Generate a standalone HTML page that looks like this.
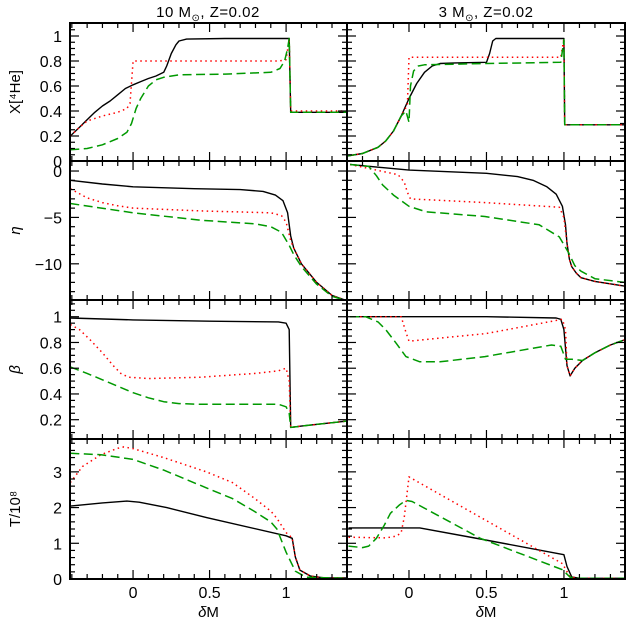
<!DOCTYPE html>
<html><head><meta charset="utf-8"><style>
html,body{margin:0;padding:0;background:#fff;}
svg{display:block;font-family:"Liberation Sans",sans-serif;}
</style></head><body>
<svg id="chart" width="627" height="622" viewBox="0 0 627 622" xmlns="http://www.w3.org/2000/svg">
<text x="208" y="17" font-size="15" text-anchor="middle" letter-spacing="0.5">10 M<tspan font-size="10" dy="4">⊙</tspan><tspan dy="-4">, Z=0.02</tspan></text>
<text x="486" y="17" font-size="15" text-anchor="middle" letter-spacing="0.5">3 M<tspan font-size="10" dy="4">⊙</tspan><tspan dy="-4">, Z=0.02</tspan></text>
<g id="plots"></g>
</svg>
<script>
// ---- data ----
const L1_black_x=[-0.41,-0.35,-0.3,-0.25,-0.2,-0.15,-0.1,-0.05,0,0.05,0.1,0.15,0.2,0.22,0.25,0.28,0.3,0.35,0.6,1.0,1.02,1.03,1.4];
const L1_black_y=[0.2,0.27,0.33,0.39,0.44,0.48,0.53,0.58,0.61,0.635,0.66,0.68,0.71,0.76,0.86,0.93,0.96,0.975,0.98,0.98,0.98,0.39,0.39];
const L1_red_x=[-0.41,-0.35,-0.3,-0.2,-0.1,-0.04,-0.02,0,0.95,1.0,1.02,1.03,1.4];
const L1_red_y=[0.2,0.27,0.32,0.36,0.39,0.42,0.46,0.8,0.8,0.81,0.98,0.4,0.4];
const L1_green_x=[-0.41,-0.3,-0.2,-0.1,-0.04,-0.01,0.02,0.05,0.08,0.1,0.15,0.2,0.3,0.6,0.9,0.96,0.99,1.01,1.02,1.03,1.4];
const L1_green_y=[0.09,0.1,0.13,0.18,0.23,0.3,0.42,0.5,0.56,0.6,0.65,0.67,0.69,0.695,0.71,0.74,0.8,0.9,0.98,0.39,0.39];

const R1_black_x=[-0.4,-0.3,-0.2,-0.15,-0.1,-0.05,0,0.05,0.1,0.15,0.2,0.3,0.5,0.52,0.54,0.56,1.0,1.005,1.4];
const R1_black_y=[0.04,0.06,0.11,0.16,0.24,0.36,0.5,0.62,0.71,0.76,0.78,0.785,0.79,0.86,0.96,0.98,0.98,0.29,0.29];
const R1_red_x=[-0.4,-0.3,-0.2,-0.15,-0.1,-0.05,-0.01,0,0.98,1.0,1.005,1.4];
const R1_red_y=[0.04,0.06,0.11,0.16,0.24,0.36,0.45,0.83,0.83,0.98,0.29,0.29];
const R1_green_x=[-0.4,-0.3,-0.2,-0.15,-0.1,-0.05,-0.02,0,0.01,0.03,0.06,0.1,0.5,0.98,1.0,1.005,1.4];
const R1_green_y=[0.04,0.06,0.11,0.16,0.24,0.36,0.4,0.31,0.6,0.72,0.76,0.77,0.78,0.79,0.97,0.29,0.29];

const L2_black_x=[-0.41,-0.2,0,0.4,0.7,0.85,0.93,0.98,1.01,1.03,1.05,1.1,1.2,1.3,1.4];
const L2_black_y=[-1.0,-1.4,-1.7,-1.9,-2.0,-2.2,-2.6,-3.2,-4.5,-7.0,-8.3,-10,-12,-13.4,-14];
const L2_red_x=[-0.41,-0.3,-0.2,-0.1,0,0.44,0.9,0.97,1.0,1.03,1.05,1.1,1.2,1.3,1.4];
const L2_red_y=[-1.9,-2.9,-3.4,-3.75,-4.0,-4.3,-4.5,-4.8,-5.5,-7.5,-8.3,-10,-12,-13.4,-14];
const L2_green_x=[-0.41,0,0.44,0.8,0.9,0.97,1.02,1.05,1.1,1.2,1.3,1.4];
const L2_green_y=[-3.5,-4.5,-5.3,-5.7,-6.0,-6.6,-8.0,-9.0,-10.3,-12.2,-13.5,-14];

const R2_black_x=[-0.38,0,0.5,0.7,0.8,0.89,0.95,0.99,1.01,1.02,1.035,1.05,1.08,1.11,1.2,1.39];
const R2_black_y=[0.7,0.1,-0.25,-0.6,-1.0,-1.7,-2.5,-3.8,-5.8,-7.8,-9.5,-10.3,-11.0,-11.5,-11.9,-12.4];
const R2_red_x=[-0.38,-0.07,-0.03,-0.01,0.01,0.49,0.97,1.0,1.02,1.035,1.05,1.08,1.11,1.2,1.39];
const R2_red_y=[0.7,-0.4,-1.2,-2.3,-3.0,-3.4,-3.9,-5.0,-7.8,-9.5,-10.3,-11.0,-11.5,-11.9,-12.4];
const R2_green_x=[-0.38,-0.26,-0.21,-0.17,-0.1,0,0.11,0.49,0.84,0.97,1.03,1.07,1.11,1.2,1.39];
const R2_green_y=[0.7,0.5,-0.5,-1.5,-2.6,-3.8,-4.4,-4.9,-5.8,-7.1,-8.8,-10.2,-10.8,-11.6,-12.0];

const L3_black_x=[-0.41,0,0.5,0.95,1.0,1.02,1.03,1.1,1.4];
const L3_black_y=[0.99,0.975,0.965,0.96,0.95,0.9,0.14,0.15,0.19];
const L3_red_x=[-0.41,-0.35,-0.28,-0.2,-0.13,-0.08,-0.03,0.1,0.44,0.8,0.95,1.0,1.02,1.03,1.1,1.4];
const L3_red_y=[0.94,0.9,0.82,0.72,0.62,0.56,0.53,0.52,0.53,0.56,0.58,0.6,0.5,0.14,0.15,0.19];
const L3_green_x=[-0.41,-0.3,-0.2,-0.1,0,0.1,0.2,0.3,0.44,0.95,1.0,1.02,1.03,1.1,1.4];
const L3_green_y=[0.61,0.56,0.51,0.46,0.41,0.37,0.34,0.325,0.32,0.32,0.3,0.25,0.14,0.15,0.19];

const R3_black_x=[-0.38,0.5,0.95,0.98,1.0,1.02,1.04,1.07,1.12,1.2,1.3,1.39];
const R3_black_y=[1.0,1.0,0.99,0.98,0.9,0.62,0.54,0.6,0.66,0.72,0.78,0.82];
const R3_red_x=[-0.38,-0.05,-0.02,0,0.5,0.99,1.01,1.02,1.04,1.07,1.12,1.2,1.3,1.39];
const R3_red_y=[1.0,1.0,0.88,0.81,0.87,0.98,0.9,0.62,0.54,0.6,0.66,0.72,0.78,0.82];
const R3_green_x=[-0.38,-0.28,-0.2,-0.15,-0.08,-0.02,0.07,0.2,0.49,0.92,0.98,1.01,1.05,1.12,1.2,1.3,1.39];
const R3_green_y=[1.0,1.0,0.96,0.9,0.79,0.69,0.65,0.65,0.69,0.78,0.77,0.67,0.67,0.66,0.72,0.78,0.82];

const L4_black_x=[-0.41,-0.2,-0.04,0.04,0.22,0.48,1.0,1.04,1.06,1.09,1.16,1.25,1.4];
const L4_black_y=[2.04,2.13,2.18,2.15,2.0,1.72,1.21,1.14,0.62,0.25,0.08,0.03,0.03];
const L4_red_x=[-0.41,-0.33,-0.21,-0.1,-0.06,0,0.2,0.48,0.65,0.79,0.9,0.94,1.0,1.04,1.06,1.09,1.16,1.25,1.4];
const L4_red_y=[2.7,3.15,3.48,3.66,3.7,3.65,3.4,3.0,2.7,2.27,1.9,1.7,1.3,1.15,0.62,0.25,0.08,0.03,0.03];
const L4_green_x=[-0.41,-0.21,0,0.2,0.48,0.65,0.79,0.9,0.94,1.0,1.06,1.13,1.4];
const L4_green_y=[3.52,3.48,3.35,3.05,2.55,2.25,1.9,1.6,1.4,0.75,0.22,0.05,0.02];

const R4_black_x=[-0.39,0.07,0.46,1.0,1.02,1.05,1.1,1.39];
const R4_black_y=[1.43,1.43,1.12,0.68,0.35,0.06,0.02,0.02];
const R4_red_x=[-0.39,-0.15,-0.08,-0.05,-0.03,0,0.99,1.04,1.1,1.39];
const R4_red_y=[1.17,1.15,1.2,1.3,1.74,2.86,0.43,0.06,0.02,0.02];
const R4_green_x=[-0.39,-0.3,-0.26,-0.21,-0.16,-0.12,-0.06,-0.02,0.02,0.46,0.99,1.04,1.1,1.39];
const R4_green_y=[0.92,0.88,0.92,1.14,1.5,1.84,2.08,2.2,2.17,1.14,0.26,0.05,0.02,0.02];

const xTickLabels=["0","0.5","1"];
const yTickLabels1=["0","0.2","0.4","0.6","0.8","1"];
const yTickLabels2=["0","−5","−10"];
const yTickLabels3=["0.2","0.4","0.6","0.8","1"];
const yTickLabels4=["0","1","2","3"];

// ---- layout ----
const NS="http://www.w3.org/2000/svg";
const G=document.getElementById('plots');
const cols=[{x0:70,x1:347,d0:-0.412,d1:1.398},{x0:347,x1:625,d0:-0.40,d1:1.394}];
const rows=[
 {y0:23,y1:161,v0:0,v1:1.104,maj:0.2,min:0.05,majV:[0,0.2,0.4,0.6,0.8,1],labels:yTickLabels1,title:"X[⁴He]"},
 {y0:161,y1:300,v0:-13.9,v1:1.08,maj:5,min:1,majV:[0,-5,-10],labels:yTickLabels2,title:"η"},
 {y0:300,y1:439,v0:0.05,v1:1.13,maj:0.2,min:0.05,majV:[0.2,0.4,0.6,0.8,1],labels:yTickLabels3,title:"β"},
 {y0:439,y1:579,v0:0,v1:3.92,maj:1,min:0.2,majV:[0,1,2,3],labels:yTickLabels4,title:"T/10⁸"}
];
const series=[
 [[L1_black_x,L1_black_y,L1_red_x,L1_red_y,L1_green_x,L1_green_y],[R1_black_x,R1_black_y,R1_red_x,R1_red_y,R1_green_x,R1_green_y]],
 [[L2_black_x,L2_black_y,L2_red_x,L2_red_y,L2_green_x,L2_green_y],[R2_black_x,R2_black_y,R2_red_x,R2_red_y,R2_green_x,R2_green_y]],
 [[L3_black_x,L3_black_y,L3_red_x,L3_red_y,L3_green_x,L3_green_y],[R3_black_x,R3_black_y,R3_red_x,R3_red_y,R3_green_x,R3_green_y]],
 [[L4_black_x,L4_black_y,L4_red_x,L4_red_y,L4_green_x,L4_green_y],[R4_black_x,R4_black_y,R4_red_x,R4_red_y,R4_green_x,R4_green_y]]
];
function mk(tag,attrs){const e=document.createElementNS(NS,tag);for(const k in attrs)e.setAttribute(k,attrs[k]);return e;}
function line(x1,y1,x2,y2,w){const l=mk('line',{x1,y1,x2,y2,stroke:'#000','stroke-width':w});return l;}
const styles=[{c:'#000',d:'none',n:'black-solid'},{c:'#f00',d:'1.5 3.5',n:'red-dotted'},{c:'#090',d:'9 4.5',n:'green-dashed'}];

rows.forEach((r,ri)=>{
 cols.forEach((c,ci)=>{
  const sx=v=>c.x0+(v-c.d0)/(c.d1-c.d0)*(c.x1-c.x0);
  const sy=v=>r.y1-(v-r.v0)/(r.v1-r.v0)*(r.y1-r.y0);
  const g=mk('g',{});
  
  
  G.appendChild(g);
  const clipId='clip'+ri+ci;
  const cp=mk('clipPath',{id:clipId});cp.appendChild(mk('rect',{x:c.x0,y:r.y0,width:c.x1-c.x0,height:r.y1-r.y0}));g.appendChild(cp);
  const sg=mk('g',{'clip-path':'url(#'+clipId+')'});g.appendChild(sg);
  const s=series[ri][ci];
  for(let k=0;k<3;k++){
   const xs=s[2*k],ys=s[2*k+1];
   const d=xs.map((x,i)=>(i?'L':'M')+sx(x).toFixed(1)+','+sy(ys[i]).toFixed(1)).join('');
   const p=mk('path',{d,fill:'none',stroke:styles[k].c,'stroke-width':k==0?1.4:1.5,'stroke-dasharray':styles[k].d,'stroke-linejoin':'round'});
   
   
   sg.appendChild(p);
  }
  const fr=mk('rect',{x:c.x0,y:r.y0,width:c.x1-c.x0,height:r.y1-r.y0,fill:'none',stroke:'#000','stroke-width':2});
  
  
  g.appendChild(fr);
  for(let i=-4;i<=14;i++){const v=i/10;const X=sx(v);if(X<c.x0+1||X>c.x1-1)continue;const L=(i%5==0)?9:5;
   g.appendChild(line(X,r.y1,X,r.y1-L,1.2));g.appendChild(line(X,r.y0,X,r.y0+L,1.2));}
  for(let v=Math.ceil(r.v0/r.min)*r.min;v<=r.v1+1e-9;v+=r.min){const Y=sy(v);if(Y<r.y0+1||Y>r.y1-1)continue;
   const isMaj=Math.abs(v/r.maj-Math.round(v/r.maj))<1e-6;const L=isMaj?9:5;
   g.appendChild(line(c.x0,Y,c.x0+L,Y,1.2));g.appendChild(line(c.x1,Y,c.x1-L,Y,1.2));}
  if(ci==0){
   r.majV.forEach((v,i)=>{const t=mk('text',{x:c.x0-8,y:sy(v)+6,'font-size':16,'text-anchor':'end'});t.textContent=r.labels[i];
    
    
    g.appendChild(t);});
   const yc=(r.y0+r.y1)/2;
   const t=mk('text',{x:20,y:yc,'font-size':15,'text-anchor':'middle',transform:'rotate(-90 20 '+yc+')','font-style':ri==1||ri==2?'italic':'normal'});
   t.textContent=r.title;
   
   
   g.appendChild(t);
  }
  if(ri==3){
   [0,0.5,1].forEach((v,i)=>{const t=mk('text',{x:sx(v),y:r.y1+19,'font-size':16,'text-anchor':'middle'});t.textContent=xTickLabels[i];
    
    
    g.appendChild(t);});
   const t=mk('text',{x:(c.x0+c.x1)/2,y:r.y1+38,'font-size':15,'text-anchor':'middle'});
   t.innerHTML='<tspan font-style="italic">δ</tspan>M';
   
   
   g.appendChild(t);
  }
 });
});
</script>
</body></html>
